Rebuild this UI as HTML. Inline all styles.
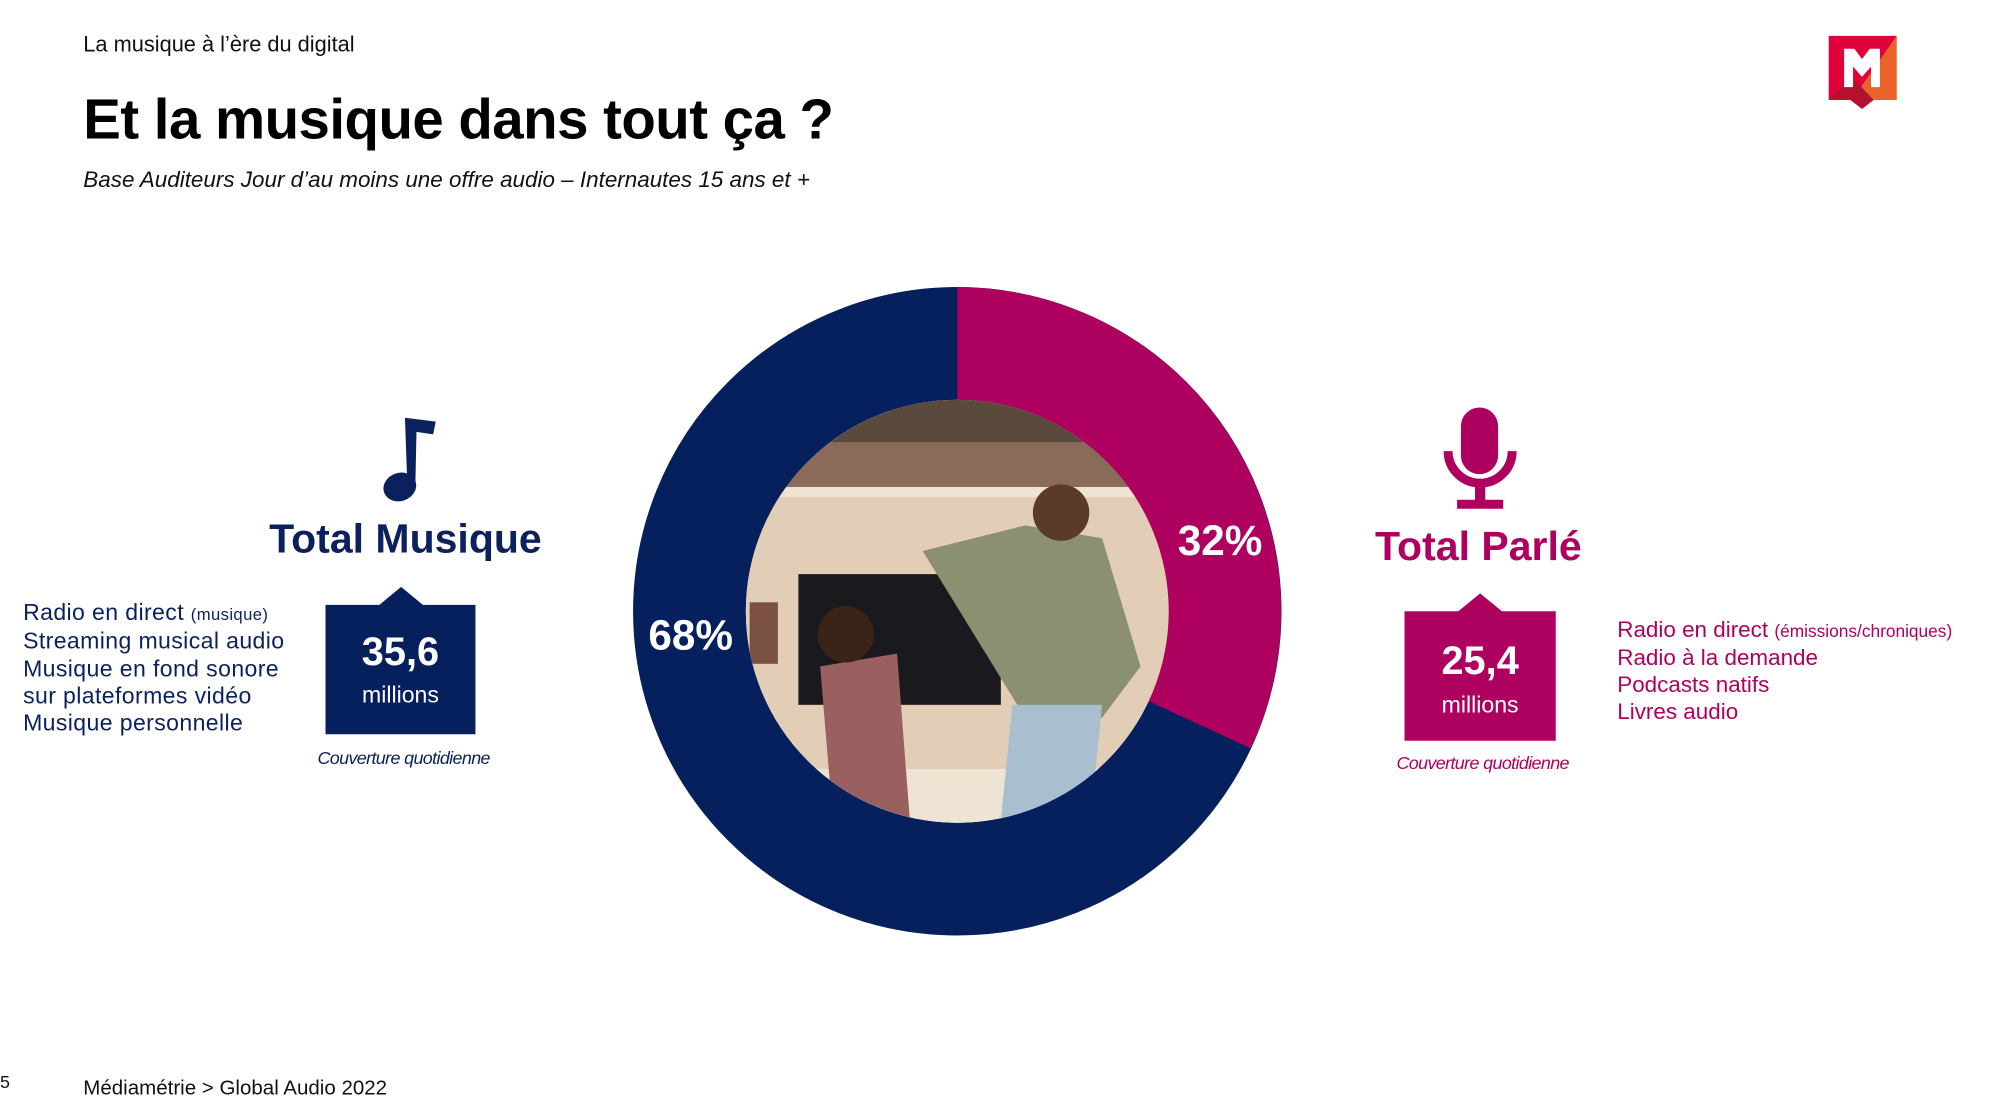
<!DOCTYPE html>
<html><head><meta charset="utf-8">
<style>
html,body{margin:0;padding:0;background:#fff;overflow:hidden}
body{width:2010px;height:1114px;position:relative}
#w{position:absolute;left:0;top:0;width:1570px;height:870px;transform:scale(1.2815);transform-origin:0 0;font-family:"Liberation Sans",sans-serif}
.a{position:absolute;white-space:nowrap}
.n{color:#0a215e}.m{color:#ae005f}
</style></head><body><div id="w">
<div class="a" style="left:65px;top:25px;font-size:17px;color:#111">La musique à l’ère du digital</div>
<div class="a" style="left:65px;top:69px;font-size:44px;font-weight:bold;color:#000;letter-spacing:-0.4px">Et la musique dans tout ça ?</div>
<div class="a" style="left:65px;top:130px;font-size:17.5px;font-style:italic;color:#111">Base Auditeurs Jour d’au moins une offre audio – Internautes 15 ans et +</div>

<svg class="a" style="left:0;top:0" width="1570" height="870">
<defs><clipPath id="c"><circle cx="747" cy="477" r="165"/></clipPath></defs>
<circle cx="747" cy="477" r="209" fill="none" stroke="#06205e" stroke-width="88"/>
<path d="M747 224 A253 253 0 0 1 976 584 L896 547 A165 165 0 0 0 747 312 Z" fill="#ae005f"/>
<g clip-path="url(#c)">
<rect x="580" y="310" width="340" height="340" fill="#e2cdb6"/>
<rect x="580" y="310" width="340" height="75" fill="#5a4a3e"/>
<rect x="600" y="345" width="290" height="35" fill="#8a6b5a"/>
<rect x="580" y="380" width="340" height="8" fill="#f0e2d0"/>
<rect x="623" y="448" width="158" height="102" fill="#1a1a1e"/>
<rect x="585" y="470" width="22" height="48" fill="#7a5040"/>
<rect x="580" y="600" width="340" height="50" fill="#efe3d4"/>
<path d="M720 430 L800 410 L860 420 L890 520 L860 560 L800 560 Z" fill="#8a9070"/>
<path d="M790 550 L860 550 L850 650 L780 650 Z" fill="#a9bfd0"/>
<circle cx="828" cy="400" r="22" fill="#5a3a28"/>
<path d="M640 520 L700 510 L710 640 L650 640 Z" fill="#9a6060"/>
<circle cx="660" cy="495" r="22" fill="#3a2418"/>
</g>
<text x="952" y="433" font-size="33" font-weight="bold" fill="#fff" text-anchor="middle" font-family="Liberation Sans">32%</text>
<text x="539" y="507" font-size="33" font-weight="bold" fill="#fff" text-anchor="middle" font-family="Liberation Sans">68%</text>
<path d="M316 326 L340 329 L338 339 L325 337 L324 383 L318 383 Z" fill="#0a215e"/>
<ellipse cx="312" cy="380" rx="13" ry="11" fill="#0a215e" transform="rotate(-20 312 380)"/>
<path d="M254 472 L296 472 L313 458 L330 472 L371 472 L371 573 L254 573 Z" fill="#06205e"/>
<rect x="1140" y="318" width="29" height="52" rx="14.5" fill="#ae005f"/>
<path d="M1130 352 A25 25 0 0 0 1180 352" fill="none" stroke="#ae005f" stroke-width="7"/>
<rect x="1151" y="377" width="8" height="14" fill="#ae005f"/>
<rect x="1137" y="390" width="36" height="7" fill="#ae005f"/>
<path d="M1096 477 L1138 477 L1155 463 L1172 477 L1214 477 L1214 578 L1096 578 Z" fill="#ae005f"/>
<path d="M1427 28 L1480 28 L1480 78 L1462 78 L1453 85 L1444 78 L1427 78 Z" fill="#e2003a"/>
<path d="M1480 28 L1480 78 L1462 78 L1452 68 Z" fill="#e8622a"/>
<path d="M1427 78 L1444 78 L1453 85 L1462 78 L1445 60 Z" fill="#b3122f"/>
<path d="M1439 38 L1447 38 L1453 46 L1459 38 L1467 38 L1467 68 L1460 68 L1460 52 L1453 60 L1446 52 L1446 68 L1439 68 Z" fill="#fff"/>
</svg>

<div class="a n" style="left:210px;top:402px;font-size:32px;font-weight:bold">Total Musique</div>
<div class="a" style="left:254px;top:491px;width:117px;text-align:center;color:#fff;font-size:31px;font-weight:bold">35,6</div>
<div class="a" style="left:254px;top:532px;width:117px;text-align:center;color:#fff;font-size:18px">millions</div>
<div class="a n" style="left:215px;top:583px;width:200px;text-align:center;font-size:14px;font-style:italic;letter-spacing:-0.5px">Couverture quotidienne</div>
<div class="a n" style="left:18px;top:468px;font-size:18px;line-height:21.3px;letter-spacing:0.3px">Radio en direct <span style="font-size:13px">(musique)</span><br>Streaming musical audio<br>Musique en fond sonore<br>sur plateformes vidéo<br>Musique personnelle</div>

<div class="a m" style="left:1073px;top:408px;font-size:32px;font-weight:bold">Total Parlé</div>
<div class="a" style="left:1096px;top:498px;width:118px;text-align:center;color:#fff;font-size:31px;font-weight:bold">25,4</div>
<div class="a" style="left:1096px;top:540px;width:118px;text-align:center;color:#fff;font-size:18px">millions</div>
<div class="a m" style="left:1057px;top:587px;width:200px;text-align:center;font-size:14px;font-style:italic;letter-spacing:-0.5px">Couverture quotidienne</div>
<div class="a m" style="left:1262px;top:481px;font-size:17.5px;line-height:21px">Radio en direct <span style="font-size:13.5px">(émissions/chroniques)</span><br>Radio à la demande<br>Podcasts natifs<br>Livres audio</div>

<div class="a" style="left:0;top:836px;font-size:14px;color:#111">5</div>
<div class="a" style="left:65px;top:841px;font-size:16px;color:#111">Médiamétrie &gt; Global Audio 2022</div>
</div></body></html>
